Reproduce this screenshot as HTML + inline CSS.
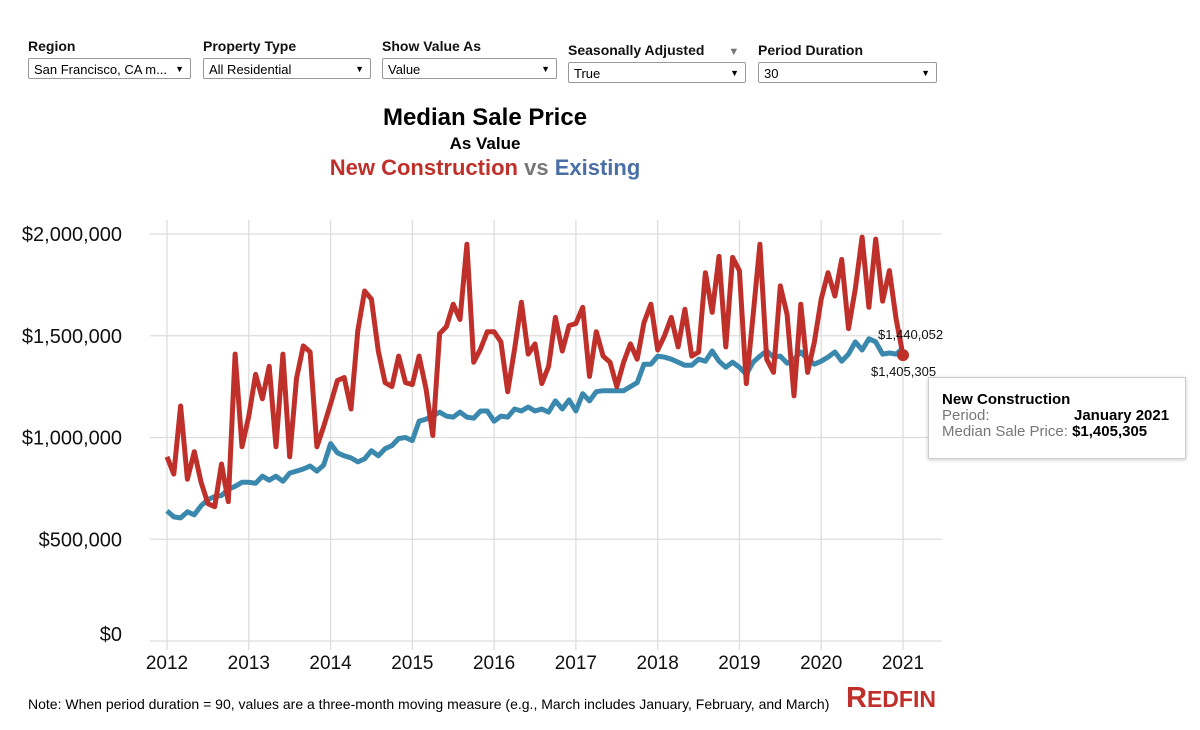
<!DOCTYPE html>
<html><head><meta charset="utf-8"><style>
body{margin:0;width:1200px;height:730px;background:#fff;font-family:"Liberation Sans",Arial,sans-serif;position:relative;overflow:hidden}
.ctl{position:absolute}
.ctl .lb{font-weight:bold;font-size:14px;color:#111;margin-bottom:4px}
.ctl .sel{border:1px solid #999;height:21px;font-size:13px;line-height:21px;padding-left:5px;position:relative;box-sizing:border-box;border-radius:2px}
.ctl .sel:after{content:"▼";position:absolute;right:6px;top:0;font-size:9px}
</style></head><body>
<div class="ctl" style="left:28px;top:38px"><div class="lb">Region</div><div class="sel" style="width:163px">San Francisco, CA m...</div></div>
<div class="ctl" style="left:203px;top:38px"><div class="lb">Property Type</div><div class="sel" style="width:168px">All Residential</div></div>
<div class="ctl" style="left:382px;top:38px"><div class="lb">Show Value As</div><div class="sel" style="width:175px">Value</div></div>
<div class="ctl" style="left:568px;top:42px"><div class="lb">Seasonally Adjusted <span style="color:#777;font-size:11px;margin-left:20px">▼</span></div><div class="sel" style="width:178px">True</div></div>
<div class="ctl" style="left:758px;top:42px"><div class="lb">Period Duration</div><div class="sel" style="width:179px">30</div></div>

<div style="position:absolute;left:285px;width:400px;top:104px;text-align:center;font-weight:bold;font-size:24px">Median Sale Price</div>
<div style="position:absolute;left:285px;width:400px;top:134px;text-align:center;font-weight:bold;font-size:17px">As Value</div>
<div style="position:absolute;left:235px;width:500px;top:155px;text-align:center;font-weight:bold;font-size:22px"><span style="color:#c0302b">New Construction</span> <span style="color:#777">vs</span> <span style="color:#4a6fa5">Existing</span></div>

<svg id="chart" width="1200" height="730" style="position:absolute;left:0;top:0"></svg>

<div style="position:absolute;left:928px;top:377px;width:258px;height:82px;border:1px solid #ccc;box-shadow:0 1px 4px rgba(0,0,0,.2);background:#fff;box-sizing:border-box;padding:14px 0 0 13px;font-size:15px;line-height:16px">
<div style="font-weight:bold">New Construction</div>
<div style="color:#777">Period:<span style="position:absolute;left:145px;color:#000;font-weight:bold">January 2021</span></div>
<div style="color:#777">Median Sale Price: <b style="color:#000">$1,405,305</b></div>
</div>
<div style="position:absolute;left:28px;top:696px;font-size:14px">Note: When period duration = 90, values are a three-month moving measure (e.g., March includes January, February, and March)</div>
<div style="position:absolute;left:846px;top:682px;font-size:29px;font-weight:bold;color:#c0302b;letter-spacing:0px">R<span style="font-size:23px">EDFIN</span></div>

<script>
const years=[2012,2013,2014,2015,2016,2017,2018,2019,2020,2021];
const yTicks=[0,500000,1000000,1500000,2000000];
const yTickLabels=["$0","$500,000","$1,000,000","$1,500,000","$2,000,000"];
const newConstruction=[905,820,1155,795,930,780,675,660,870,685,1410,955,
1105,1310,1190,1350,955,1410,905,1290,1450,1420,955,1055,
1165,1280,1295,1140,1525,1720,1680,1425,1270,1250,1400,1270,
1260,1400,1240,1010,1510,1545,1655,1580,1950,1370,1435,1520,
1520,1470,1225,1435,1665,1410,1460,1265,1350,1590,1425,1550,
1560,1640,1300,1520,1400,1370,1250,1370,1460,1385,1565,1655,
1430,1500,1590,1445,1630,1400,1420,1810,1615,1890,1445,1885,
1820,1265,1600,1950,1385,1320,1745,1605,1205,1655,1320,1470,
1680,1810,1695,1875,1535,1730,1985,1640,1975,1670,1820,1580,
1405];
const existing=[640,610,605,635,620,665,695,710,715,745,760,780,
780,775,810,790,810,785,825,835,845,860,835,865,
970,925,910,900,880,895,935,910,945,960,995,1000,
985,1080,1090,1105,1125,1105,1100,1125,1100,1095,1130,1130,
1080,1105,1100,1140,1130,1150,1130,1140,1125,1180,1140,1185,
1130,1215,1180,1225,1230,1230,1230,1230,1250,1270,1360,1360,
1400,1395,1385,1370,1355,1355,1385,1375,1425,1375,1345,1370,
1345,1310,1370,1400,1425,1395,1400,1365,1385,1420,1385,1360,
1375,1395,1420,1375,1410,1470,1430,1485,1470,1410,1415,1410,
1440];
const NS="http://www.w3.org/2000/svg";
const svg=document.getElementById('chart');
const X0=167,X1=903,Y0=641,Y1=234;
function xs(t){return X0+(t-2012)/9*(X1-X0);}
function ys(v){return Y0-v/2000000*(Y0-Y1);}
function mk(tag,attrs){const e=document.createElementNS(NS,tag);for(const k in attrs)e.setAttribute(k,attrs[k]);svg.appendChild(e);return e;}
yTicks.forEach((v,i)=>{
  const l=mk('line',{x1:150,x2:942,y1:ys(v),y2:ys(v),stroke:'#ddd','stroke-width':1.3});
  
  
  const t=mk('text',{x:122,y:ys(v)+(v===0?0:7),'text-anchor':'end','font-size':20,'font-family':'Liberation Sans, sans-serif',fill:'#111'});
  t.textContent=yTickLabels[i];
  
  
});
years.forEach(y=>{
  const l=mk('line',{x1:xs(y),x2:xs(y),y1:220,y2:650,stroke:'#ddd','stroke-width':1.3});
  
  
  const t=mk('text',{x:xs(y),y:669,'text-anchor':'middle','font-size':19,'font-family':'Liberation Sans, sans-serif',fill:'#111'});
  t.textContent=y;
  
  
});
function pts(arr){return arr.map((v,i)=>xs(2012+i/12).toFixed(1)+','+ys(v*1000).toFixed(1)).join(' ');}
const pe=mk('polyline',{points:pts(existing),fill:'none',stroke:'#3a88ad','stroke-width':5,'stroke-linejoin':'round'});


const pn=mk('polyline',{points:pts(newConstruction),fill:'none',stroke:'#c0302b','stroke-width':5,'stroke-linejoin':'round'});


const n=newConstruction.length-1;
const c=mk('circle',{cx:xs(2012+n/12),cy:ys(newConstruction[n]*1000),r:6,fill:'#c0302b'});


const l1=mk('text',{x:878,y:339,'font-size':13,'font-family':'Liberation Sans, sans-serif',fill:'#111'});
l1.textContent='$1,440,052';


const l2=mk('text',{x:871,y:376,'font-size':13,'font-family':'Liberation Sans, sans-serif',fill:'#111'});
l2.textContent='$1,405,305';


</script>
</body></html>
